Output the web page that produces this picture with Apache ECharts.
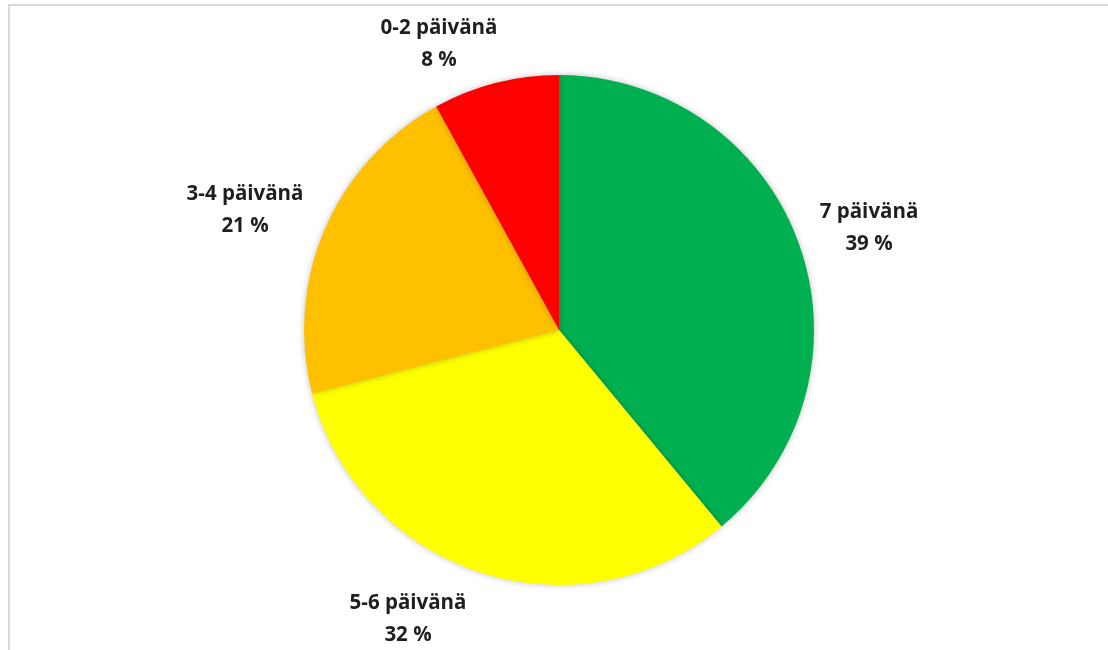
<!DOCTYPE html>
<html>
<head>
    <meta charset="UTF-8">
    <title>Päivät</title>
    <script src="https://cdn.jsdelivr.net/npm/echarts@6/dist/echarts.min.js"></script>
    <style>
        html, body {
            margin: 0;
            padding: 0;
            overflow: hidden;
            background: #ffffff;
        }
        #frame {
            position: absolute;
            left: 8px;
            top: 4px;
            width: 1200px;
            height: 700px;
            border: 2px solid #d9d9d9;
        }
        #main {
            position: absolute;
            left: 0;
            top: 0;
            width: 1108px;
            height: 650px;
        }
    </style>
</head>
<body>
    <div id="frame"></div>
    <div id="main"></div>
    <script type="text/javascript">
        var categories = ['7 päivänä', '5-6 päivänä', '3-4 päivänä', '0-2 päivänä'];
        var shares = [39, 32, 21, 8];
        var colors = ['#00b050', '#ffff00', '#ffc000', '#ff0000'];

        // label centres, relative to the pie centre (Excel "best fit" placement)
        var pieCenter = [559, 330];
        var labelOffsets = [[310, -102], [-151, 289], [-314, -120], [-120, -286]];

        var myChart = echarts.init(document.getElementById('main'));

        var pieData = categories.map(function (name, i) {
            return { name: name, value: shares[i], itemStyle: { color: colors[i] } };
        });

        var option = {
            backgroundColor: 'transparent',
            animation: false,
            series: [
                {
                    type: 'pie',
                    center: pieCenter,
                    radius: 255,
                    startAngle: 90,
                    clockwise: true,
                    data: pieData,
                    itemStyle: {
                        borderWidth: 0,
                        shadowBlur: 6,
                        shadowColor: 'rgba(0,0,0,0.25)'
                    },
                    label: {
                        show: true,
                        position: 'outside',
                        formatter: '{b}\n{c} %',
                        fontFamily: 'Open Sans',
                        fontWeight: 'bold',
                        fontSize: 20.5,
                        lineHeight: 32,
                        color: '#1f1f1f'
                    },
                    labelLine: {
                        show: false
                    },
                    labelLayout: function (params) {
                        var o = labelOffsets[params.dataIndex];
                        return {
                            x: pieCenter[0] + o[0],
                            y: pieCenter[1] + o[1],
                            align: 'center',
                            verticalAlign: 'middle'
                        };
                    }
                }
            ]
        };

        myChart.setOption(option);
    </script>
</body>
</html>
